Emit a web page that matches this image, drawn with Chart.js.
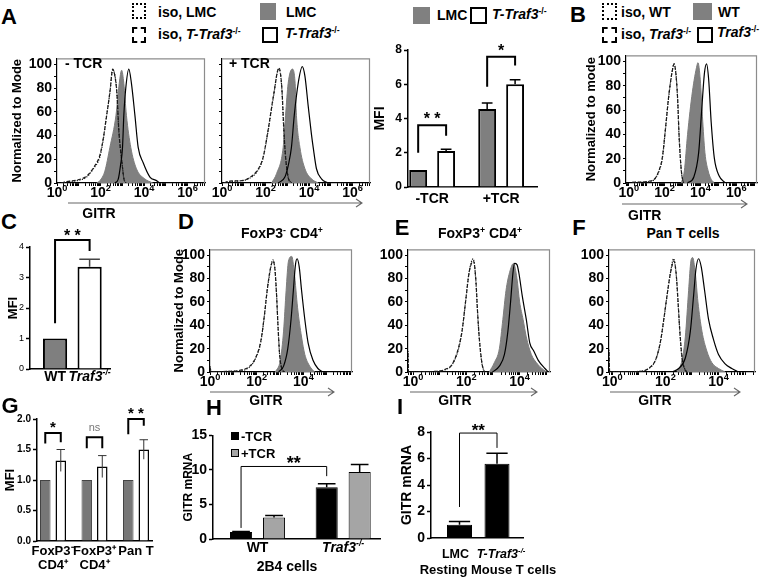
<!DOCTYPE html>
<html><head><meta charset="utf-8">
<script src="https://cdn.jsdelivr.net/npm/chart.js@4.4.1/dist/chart.umd.min.js"></script>
<style>
body{margin:0;background:#fff;width:765px;height:578px;position:relative;overflow:hidden;font-family:'Liberation Sans',Arial,Helvetica,sans-serif;}
.t{position:absolute;white-space:nowrap;font-weight:bold;color:#000;line-height:1;}
.sp{font-size:0.62em;position:relative;top:-0.6em;}
canvas{position:absolute;}
.box{position:absolute;box-sizing:border-box;}
</style></head><body>
<script>
// ================= DATA =================
// Flow histograms: points are [log10(GITR), % of mode]
const A_noTCR_isoLMC = [[0.2,0],[0.44,1],[0.9,2],[1.36,5],[1.67,12],[1.97,22],[2.12,36],[2.28,57],[2.43,76],[2.55,95],[2.63,93],[2.74,79],[2.84,44],[2.97,20],[3.07,4],[3.16,0]];
const A_noTCR_isoKO  = [[0.2,0],[0.42,1],[0.92,2.5],[1.38,6],[1.68,13],[1.98,24],[2.13,38],[2.29,58],[2.44,78],[2.56,96],[2.64,92],[2.75,76],[2.85,42],[2.98,18],[3.08,3],[3.17,0]];
const A_noTCR_LMC    = [[1.82,0],[1.97,2],[2.2,10],[2.43,30],[2.71,57],[2.86,84],[2.97,95],[3.07,84],[3.19,57],[3.39,30],[3.65,12],[4.03,3.5],[4.4,0]];
const A_noTCR_KO     = [[2.66,0],[2.81,3],[2.92,15],[3.01,30],[3.07,57],[3.16,80],[3.3,96],[3.42,84],[3.58,57],[3.73,30],[3.96,17],[4.27,5],[4.57,2],[4.72,0]];

const A_TCR_isoLMC = [[0.1,0],[0.29,1],[0.9,2],[1.21,3.5],[1.59,9],[1.82,17],[1.9,22],[2.12,44],[2.35,71],[2.61,96],[2.74,82],[2.84,44],[2.92,22],[3.04,5],[3.19,0]];
const A_TCR_isoKO  = [[0.1,0],[0.3,1.5],[0.92,2],[1.22,4],[1.6,10],[1.83,18],[1.92,24],[2.13,46],[2.36,73],[2.62,97],[2.75,80],[2.85,42],[2.93,20],[3.05,4],[3.2,0]];
const A_TCR_LMC    = [[2.28,0],[2.51,8],[2.81,30],[2.92,57],[3.04,84],[3.23,96],[3.36,84],[3.42,57],[3.58,30],[3.81,12],[4.11,3.5],[4.42,0]];
const A_TCR_KO     = [[2.58,0],[2.89,5],[3.07,17],[3.19,30],[3.32,57],[3.5,84],[3.69,98],[3.81,90],[3.96,65],[4.11,41],[4.19,30],[4.34,12],[4.57,3.5],[4.88,0]];

const B_isoWT = [[0.19,0.5],[1.08,1],[1.43,3],[1.69,10],[1.87,20],[2.05,45],[2.22,70],[2.4,90],[2.52,98],[2.63,90],[2.72,70],[2.8,40],[2.93,10],[3.05,0]];
const B_isoKO = [[0.2,0.5],[1.1,1.5],[1.45,3.5],[1.7,11],[1.88,22],[2.06,47],[2.23,72],[2.41,91],[2.53,98],[2.64,88],[2.73,68],[2.81,38],[2.94,9],[3.06,0]];
const B_WT    = [[2.93,0],[3.1,10],[3.28,40],[3.55,75],[3.81,97],[3.86,99],[3.99,85],[4.11,55],[4.25,25],[4.43,10],[4.6,3],[4.78,0]];
const B_KO    = [[3.28,0],[3.63,5],[3.9,25],[4.07,60],[4.22,90],[4.34,98],[4.46,85],[4.6,50],[4.78,20],[5.04,6],[5.4,0]];

const D_isoLMC = [[0,5],[0.05,0],[0.7,0.5],[1.26,1],[1.68,4],[1.96,12],[2.17,25],[2.31,45],[2.45,70],[2.59,88],[2.69,96],[2.77,90],[2.84,70],[2.91,40],[2.98,15],[3.08,3],[3.19,0]];
const D_isoKO  = [[0,4],[0.05,0],[0.72,0.5],[1.28,1.5],[1.7,5],[1.97,13],[2.18,27],[2.32,47],[2.46,72],[2.6,90],[2.7,95],[2.78,88],[2.85,66],[2.92,36],[2.99,13],[3.09,2],[3.2,0]];
const D_LMC    = [[2.8,0],[3.01,10],[3.15,35],[3.26,70],[3.36,95],[3.5,99],[3.61,85],[3.75,55],[3.92,30],[4.06,15],[4.27,5],[4.48,0]];
const D_KO     = [[2.94,0],[3.15,5],[3.33,20],[3.47,45],[3.57,70],[3.66,92],[3.73,97],[3.82,90],[3.92,70],[4.06,45],[4.2,25],[4.41,10],[4.62,3],[4.83,0]];

const E_isoLMC = [[-0.19,18],[-0.17,0],[0.83,0.5],[1.21,2],[1.46,6],[1.71,20],[1.84,35],[1.97,60],[2.1,85],[2.26,97],[2.35,80],[2.41,55],[2.48,30],[2.58,8],[2.67,0]];
const E_isoKO  = [[-0.19,16],[-0.17,0],[0.85,0.5],[1.23,2.5],[1.48,7],[1.72,22],[1.85,37],[1.98,62],[2.11,86],[2.27,95],[2.36,78],[2.42,52],[2.49,28],[2.59,7],[2.68,0]];
const E_LMC    = [[2.86,0],[3.05,8],[3.24,20],[3.37,45],[3.49,70],[3.62,85],[3.77,93],[3.9,80],[4.0,60],[4.13,45],[4.25,30],[4.44,15],[4.63,8],[4.89,2],[5.02,0]];
const E_KO     = [[2.98,0],[3.24,5],[3.43,15],[3.56,35],[3.66,60],[3.75,85],[3.81,93],[3.9,92],[3.97,85],[4.1,65],[4.25,45],[4.38,25],[4.53,18],[4.7,10],[4.95,3],[5.08,0]];

const F_isoLMC = [[-0.125,19],[-0.1,0],[1.0,0.5],[1.375,3],[1.625,10],[1.81,25],[1.94,45],[2.06,65],[2.19,85],[2.31,97],[2.4,85],[2.475,60],[2.54,35],[2.625,12],[2.725,3],[2.81,0]];
const F_isoKO  = [[-0.125,17],[-0.1,0],[1.02,0.5],[1.39,3.5],[1.64,11],[1.82,27],[1.95,47],[2.07,67],[2.2,86],[2.32,95],[2.41,83],[2.485,57],[2.55,33],[2.635,11],[2.735,2],[2.82,0]];
const F_LMC    = [[2.44,0],[2.625,10],[2.75,30],[2.875,70],[2.96,95],[3.025,98],[3.125,85],[3.225,60],[3.375,35],[3.56,18],[3.75,8],[4.0,3],[4.25,0]];
const F_KO     = [[2.25,0],[2.5,3],[2.75,12],[2.94,35],[3.06,65],[3.15,88],[3.25,97],[3.35,90],[3.475,70],[3.625,45],[3.81,28],[4.0,15],[4.25,7],[4.5,3],[4.75,0]];

// Histogram axis ticks
const HIST_X_DECADES = [0, 2, 4, 6];
const HIST_Y_TICKS = [0, 20, 40, 60, 80, 100];

// Bar data
const A_groups = ['-TCR', '+TCR'];
const A_LMC = [1.0, 4.55],  A_LMC_err = [0, 0.35];
const A_KO  = [2.1, 6.0],   A_KO_err  = [0.1, 0.27];
// rich labels: [text, style]  style: '' normal, 'i' italic, 's' superscript
const C_groups = [[['WT','']], [['Traf3','i'],['-/-','is']]];
const C_vals = [1.0, 3.35], C_err = [0, 0.25];
const G_groups = [['FoxP3\u207B','CD4\u207A'], ['FoxP3\u207A','CD4\u207A'], 'Pan T'];
const G_ctrl = [1, 1, 1];
const G_KO = [1.32, 1.22, 1.5], G_KO_err = [0.18, 0.18, 0.16];
const H_groups = [[['WT','']], [['Traf3','i'],['-/-','is']]];
const H_noTCR = [1.0, 7.5], H_noTCR_err = [0.1, 0.5];
const H_TCR   = [3.1, 9.7], H_TCR_err   = [0.3, 1.1];
const I_groups = [[['LMC','']], [['T-Traf3','i'],['-/-','is']]];
const I_vals = [1.0, 5.6], I_err = [0.25, 0.8];

// ================= HELPERS =================
const FONT = "'Liberation Sans', Arial, Helvetica, sans-serif";
Chart.defaults.font.family = FONT;

Chart.register({
  id:'frame',
  afterDraw(ch, a, o){
    if(!o || !o.on) return;
    const {left,right,top,bottom} = ch.chartArea, c = ch.ctx;
    c.save(); c.strokeStyle = '#8c8c8c'; c.lineWidth = 1.2;
    c.beginPath(); c.moveTo(left, top+0.5); c.lineTo(right-0.5, top+0.5); c.lineTo(right-0.5, bottom); c.stroke();
    c.restore();
  }
});
Chart.register({
  id:'errbars',
  afterDatasetsDraw(ch){
    const c = ch.ctx, ys = ch.scales.y;
    ch.data.datasets.forEach((d, di) => {
      if(!d.errs) return;
      ch.getDatasetMeta(di).data.forEach((el, i) => {
        const e = d.errs[i]; if(!e) return;
        const v = d.data[i].y;
        const yT = ys.getPixelForValue(v + e);
        const yB = d.errDown ? ys.getPixelForValue(v - e) : ys.getPixelForValue(v);
        const cw = el.width * (d.capFrac || 0.6) / 2;
        c.save(); c.strokeStyle = d.errColor || '#000'; c.lineWidth = d.errW || 1.5;
        c.beginPath(); c.moveTo(el.x, yB); c.lineTo(el.x, yT); c.moveTo(el.x-cw, yT); c.lineTo(el.x+cw, yT); c.stroke();
        c.restore();
      });
    });
  }
});
Chart.register({
  id:'sig',
  afterDraw(ch, a, o){
    if(!o || !o.items) return;
    const c = ch.ctx, ys = ch.scales.y;
    o.items.forEach(b => {
      const ea = ch.getDatasetMeta(b.a[0]).data[b.a[1]], eb = ch.getDatasetMeta(b.b[0]).data[b.b[1]];
      const xa = ea.x, xb = eb.x, yt = ys.getPixelForValue(b.top);
      c.save(); c.strokeStyle = '#000'; c.lineWidth = b.lw || 2; c.lineJoin = 'miter';
      c.beginPath(); c.moveTo(xa, ys.getPixelForValue(b.la)); c.lineTo(xa, yt); c.lineTo(xb, yt); c.lineTo(xb, ys.getPixelForValue(b.lb)); c.stroke();
      c.fillStyle = b.color || '#000'; c.font = b.font || ('bold 16px ' + FONT);
      c.textAlign = 'center'; c.textBaseline = 'alphabetic';
      c.fillText(b.text, (xa+xb)/2 + (b.dx||0), yt - (b.dy||0));
      c.restore();
    });
  }
});
// x-axis labels with italic / superscript parts, placed by the x scale
Chart.register({
  id:'richx',
  afterDraw(ch, a, o){
    if(!o || !o.labels) return;
    const xs = ch.scales.x, c = ch.ctx;
    const supS = o.supScale || 0.62, supR = o.supRise || 0.4;
    o.labels.forEach((segs, i) => {
      if(o.pos[i] < xs.min || o.pos[i] > xs.max) return;
      const x = xs.getPixelForValue(o.pos[i]) + (o.dx ? o.dx[i] : 0), y = xs.top + o.base;
      let w = 0;
      const parts = segs.map(s => {
        const sup = s[1].includes('s'), size = sup ? o.size*supS : o.size;
        const font = (s[1].includes('i') ? 'italic ' : '') + 'bold ' + size + 'px ' + FONT;
        c.font = font; const ww = c.measureText(s[0]).width; w += ww;
        return {t:s[0], font, ww, dy: sup ? -o.size*supR : 0};
      });
      let cx = x - w/2;
      c.save(); c.fillStyle = '#000'; c.textBaseline = 'alphabetic'; c.textAlign = 'left';
      parts.forEach(p => { c.font = p.font; c.fillText(p.t, cx, y + p.dy); cx += p.ww; });
      c.restore();
    });
  }
});

function mkCanvas(area, m){
  const c = document.createElement('canvas');
  const w = Math.round(area[2]-area[0]+m.l+m.r), h = Math.round(area[3]-area[1]+m.t+m.b);
  c.width = w; c.height = h;
  c.style.left = (area[0]-m.l)+'px'; c.style.top = (area[1]-m.t)+'px';
  c.style.width = w+'px'; c.style.height = h+'px';
  document.body.appendChild(c);
  return c;
}
const pts = a => a.map(p => ({x:p[0], y:p[1]}));

function histo(area, m, xr, cur, yLabels, yTitle){
  const cv = mkCanvas(area, m);
  const decs = HIST_X_DECADES.filter(n => n >= xr[0] && n <= xr[1] - 0.3);
  new Chart(cv, {
    type:'line',
    data:{datasets:[
      {data:pts(cur.ko),   borderColor:'#000', borderWidth:1.2, order:1},
      {data:pts(cur.iso1), borderColor:'#1a1a1a', borderWidth:1.2, borderDash:[1.2,1.4], order:1},
      {data:pts(cur.iso2), borderColor:'#1a1a1a', borderWidth:1.2, borderDash:[3.5,2], order:1},
      {data:pts(cur.ctl),  borderColor:'#7d7d7d', borderWidth:1, backgroundColor:'#808080', fill:'origin', order:2}
    ]},
    options:{
      responsive:false, animation:false, devicePixelRatio:1, events:[],
      layout:{padding:{top:m.t, right:m.r, left:0, bottom:0}},
      plugins:{legend:{display:false}, tooltip:{enabled:false}, frame:{on:true},
        richx:{labels:decs.map(n => [['10',''],[String(n),'s']]), pos:decs, base:14, size:14, supScale:0.66, supRise:0.42}},
      elements:{point:{radius:0}, line:{cubicInterpolationMode:'monotone', fill:false}},
      scales:{
        x:{type:'linear', min:xr[0], max:xr[1],
          afterFit:s=>{s.height=m.b;},
          afterBuildTicks:s=>{
            const t=[];
            for(let n=Math.floor(xr[0]); n<=Math.ceil(xr[1]); n++)
              for(let k=1;k<=9;k++){ const v=n+Math.log10(k); if(v>=xr[0]-1e-9 && v<=xr[1]+1e-9) t.push({value:v}); }
            s.ticks=t;
          },
          ticks:{autoSkip:false, maxRotation:0, padding:0, font:{size:1}, callback:()=>''},
          grid:{drawOnChartArea:false, drawTicks:true, tickLength:3, tickColor:'#000'},
          border:{color:'#000', width:1.2}},
        y:{min:0, max:105,
          afterFit:s=>{s.width=m.l;},
          afterBuildTicks:s=>{ const t=[]; for(let v=0; v<=100; v+=10) t.push({value:v, lab:HIST_Y_TICKS.includes(v)}); s.ticks=t; },
          ticks:{autoSkip:false, padding:2, color:'#000', font:{size:14, weight:'bold'},
            callback:(v,i,t)=> (yLabels && t[i].lab) ? String(v) : ''},
          grid:{drawOnChartArea:false, drawTicks:true, tickLength:3, tickColor:'#000'},
          border:{color:'#000', width:1.2},
          title: yTitle ? {display:true, text:yTitle, color:'#000', font:{size:13, weight:'bold'}, padding:0} : {display:false}}
      }
    }
  });
}

function barChart(area, m, cfg){
  const cv = mkCanvas(area, m);
  new Chart(cv, {
    type:'bar',
    data:{datasets: cfg.ds.map(d => ({
      data: d.vals.map((v,i)=>({x:cfg.pos[i], y:v})),
      backgroundColor:d.bg, borderColor:d.border, borderWidth:d.bw,
      errs:d.errs, errDown:d.errDown, errColor:d.errColor, errW:d.errW, capFrac:d.capFrac,
      categoryPercentage:cfg.cat, barPercentage:cfg.bar
    }))},
    options:{
      responsive:false, animation:false, devicePixelRatio:1, events:[],
      layout:{padding:{top:m.t, right:m.r, left:0, bottom:0}},
      plugins:{legend:{display:false}, tooltip:{enabled:false}, sig:{items:cfg.brackets},
        richx: cfg.rich ? {labels:cfg.rich, pos:cfg.pos, base:cfg.richBase, size:cfg.richSize||14, dx:cfg.richDx} : {}},
      scales:{
        x:{type:'linear', offset:false, min:cfg.xr[0], max:cfg.xr[1],
          afterFit:s=>{s.height=m.b;},
          afterBuildTicks:s=>{ s.ticks = cfg.pos.map(v=>({value:v})); },
          ticks:{autoSkip:false, maxRotation:0, padding:cfg.labelPad||0, color:'#000',
            font:{size:cfg.xsize||14, weight:'bold', lineHeight:cfg.xlh||1.2},
            callback:(v,i)=> cfg.labels ? cfg.labels[i] : ''},
          grid:{display:false, drawTicks:false},
          border:{color:'#000', width:cfg.axW||1.5}},
        y:{min:cfg.yr[0], max:cfg.yr[1],
          afterFit:s=>{s.width=m.l;},
          ticks:{stepSize:cfg.ystep, padding:2, color:'#000', font:cfg.yfont, callback:cfg.yfmt || (v=>String(v))},
          grid:{drawOnChartArea:false, drawTicks:true, tickLength:4, tickColor:'#000', tickWidth:cfg.axW||1.5},
          border:{color:'#000', width:cfg.axW||1.5},
          title:{display:true, text:cfg.ytitle, color:'#000', font:{size:cfg.ytsize||14, weight:'bold'}, padding:0}}
      }
    }
  });
}

function T(x, y, html, o){
  o = o || {};
  const d = document.createElement('div'); d.className = 't'; d.innerHTML = html;
  d.style.left = x+'px'; d.style.top = y+'px'; d.style.fontSize = (o.s||14)+'px';
  if(o.w) d.style.fontWeight = o.w;
  if(o.c) d.style.color = o.c;
  d.style.transform = o.center ? 'translate(-50%,-50%)' : 'translateY(-50%)';
  document.body.appendChild(d);
}
function BX(x, y, w, h, css){
  const d = document.createElement('div'); d.className = 'box';
  d.style.cssText += `left:${x}px;top:${y}px;width:${w}px;height:${h}px;${css}`;
  document.body.appendChild(d);
}
const KO = '<i>T-Traf3</i><span class="sp">-/-</span>';
const KO2 = '<i>Traf3</i><span class="sp">-/-</span>';

// ================= PANEL A =================
T(9, 17, 'A', {s:22, center:true});
BX(132, 3, 14, 16, 'border:2px dotted #000;');
T(158, 12, 'iso, LMC');
BX(132, 27, 14, 16, 'border:2px dashed #000;');
T(158, 34, 'iso, ' + KO);
BX(260, 3, 16, 17, 'background:#808080;');
T(286, 12, 'LMC');
BX(262, 27, 16, 16, 'border:2px solid #000;');
T(285, 33, KO);

histo([57,52,205,183], {l:47, r:4, t:4, b:20}, [0,6.8],
  {iso1:A_noTCR_isoLMC, iso2:A_noTCR_isoKO, ctl:A_noTCR_LMC, ko:A_noTCR_KO}, true, 'Normalized to Mode');
histo([222,52,370,183], {l:14, r:4, t:4, b:20}, [0,6.8],
  {iso1:A_TCR_isoLMC, iso2:A_TCR_isoKO, ctl:A_TCR_LMC, ko:A_TCR_KO}, false, null);
T(65, 63, '- TCR', {s:14});
T(229, 63, '+ TCR', {s:14});

BX(413, 7, 17, 17, 'background:#808080;');
T(437, 15, 'LMC');
BX(470, 7, 17, 17, 'border:2px solid #000;');
T(492, 14, KO);

barChart([408,50,537,187], {l:36, r:6, t:14, b:26}, {
  xr:[0.3, 4.04], pos:[1,3], labels:A_groups, labelPad:4, cat:0.81, bar:0.64,
  yr:[0,8], ystep:2, yfont:{size:12, weight:'bold'}, ytitle:'MFI', ytsize:14,
  ds:[
    {vals:A_LMC, errs:A_LMC_err, bg:'#7f7f7f', border:'#000', bw:2},
    {vals:A_KO,  errs:A_KO_err,  bg:'#fff',    border:'#000', bw:2}
  ],
  brackets:[
    {a:[0,0], b:[1,0], top:3.6, la:2.0, lb:3.0, text:'* *', dy:1},
    {a:[0,1], b:[1,1], top:7.6, la:5.85, lb:7.1, text:'*', dy:1}
  ]
});

// ================= PANEL B =================
T(578, 15, 'B', {s:22, center:true});
BX(602, 3, 15, 17, 'border:2px dotted #000;');
T(621, 12, 'iso, WT');
BX(602, 27, 15, 16, 'border:2px dashed #000;');
T(621, 34, 'iso, ' + KO2);
BX(693, 3, 19, 17, 'background:#808080;');
T(718, 12, 'WT');
BX(697, 27, 16, 16, 'border:2px solid #000;');
T(717, 32, KO2);
histo([626,49,757,183], {l:42, r:6, t:4, b:20}, [-0.16,7.16],
  {iso1:B_isoWT, iso2:B_isoKO, ctl:B_WT, ko:B_KO}, true, 'Normalized to mode');

// ================= PANEL C =================
T(9, 222, 'C', {s:22, center:true});
barChart([30,247,110,369], {l:24, r:15, t:22, b:16}, {
  xr:[0.275, 2.59], pos:[1,2], rich:C_groups, richBase:12, richSize:14, cat:1, bar:0.7,
  yr:[0,4], ystep:1, yfont:{size:9, weight:'normal'}, ytitle:'MFI', ytsize:13, axW:1.5,
  ds:[{vals:C_vals, errs:C_err, bg:['#7f7f7f','#fff'], border:'#000', bw:2, errColor:'#444', capFrac:0.85}],
  brackets:[{a:[0,0], b:[0,1], top:4.23, la:1.5, lb:3.87, text:'* *', dy:-1}]
});

// ================= PANELS D, E, F =================
T(186, 222, 'D', {s:22, center:true});
T(282, 233, 'FoxP3<span class="sp">-</span> CD4<span class="sp">+</span>', {center:true});
histo([210,243,352,372], {l:38, r:4, t:4, b:20}, [0,6.08],
  {iso1:D_isoLMC, iso2:D_isoKO, ctl:D_LMC, ko:D_KO}, true, 'Normalized to Mode');

T(402, 228, 'E', {s:22, center:true});
T(480, 233, 'FoxP3<span class="sp">+</span> CD4<span class="sp">+</span>', {center:true});
histo([408,243,550,372], {l:30, r:4, t:4, b:20}, [-0.19,5.14],
  {iso1:E_isoLMC, iso2:E_isoKO, ctl:E_LMC, ko:E_KO}, true, null);

T(579, 228, 'F', {s:22, center:true});
T(683, 233, 'Pan T cells', {center:true});
histo([609,243,755,372], {l:30, r:6, t:4, b:20}, [-0.125,5.375],
  {iso1:F_isoLMC, iso2:F_isoKO, ctl:F_LMC, ko:F_KO}, true, null);

// GITR axis arrows
(function(){
  const ns = 'http://www.w3.org/2000/svg';
  const svg = document.createElementNS(ns, 'svg');
  svg.setAttribute('width', 765); svg.setAttribute('height', 578);
  svg.style.cssText = 'position:absolute;left:0;top:0;pointer-events:none;';
  [[68,362,203],[622,747,204],[210,334,392],[410,537,392],[610,740,392]].forEach(a => {
    const p = document.createElementNS(ns, 'path');
    p.setAttribute('d', `M${a[0]} ${a[2]} H${a[1]} M${a[1]-6} ${a[2]-4} L${a[1]} ${a[2]} L${a[1]-6} ${a[2]+4}`);
    p.setAttribute('stroke', '#666'); p.setAttribute('stroke-width', '1.1'); p.setAttribute('fill', 'none');
    svg.appendChild(p);
  });
  document.body.appendChild(svg);
})();
T(99, 213, 'GITR', {center:true});
T(628, 215, 'GITR');
T(266, 400, 'GITR', {center:true});
T(455, 400, 'GITR', {center:true});
T(655, 400, 'GITR', {center:true});

// ================= PANEL G =================
T(10, 406, 'G', {s:22, center:true});
barChart([37,419,152,541], {l:34, r:10, t:18, b:37}, {
  xr:[0.614, 3.385], pos:[1,2,3], labels:G_groups, labelPad:4, xsize:13, xlh:1.05, cat:0.747, bar:0.68,
  yr:[0,2], ystep:0.5, yfont:{size:10, weight:'bold'}, yfmt:v=>v.toFixed(1), ytitle:'MFI', ytsize:13,
  ds:[
    {vals:G_ctrl, bg:'#777', border:'#444', bw:1},
    {vals:G_KO, errs:G_KO_err, errDown:true, bg:'#fff', border:'#000', bw:1.5, errColor:'#333', errW:1, capFrac:0.8}
  ],
  brackets:[
    {a:[0,0], b:[1,0], top:1.77, la:1.6, lb:1.62, text:'*', font:'bold 15px '+FONT, dy:1},
    {a:[0,1], b:[1,1], top:1.7, la:1.52, lb:1.52, text:'ns', font:'11px '+FONT, color:'#777', dy:6},
    {a:[0,2], b:[1,2], top:2.0, la:1.75, lb:1.89, text:'* *', font:'bold 15px '+FONT, dy:1}
  ]
});

// ================= PANEL H =================
T(214, 408, 'H', {s:22, center:true});
barChart([213,435,380,539], {l:32, r:8, t:10, b:35}, {
  xr:[0.48, 2.43], pos:[1,2], rich:H_groups, richBase:13, richSize:14, cat:0.77, bar:0.67,
  yr:[0,15], ystep:5, yfont:{size:14, weight:'bold'}, ytitle:'GITR mRNA', ytsize:12, axW:1.5,
  ds:[
    {vals:H_noTCR, errs:H_noTCR_err, bg:'#000', border:'#000', bw:1, capFrac:0.8},
    {vals:H_TCR, errs:H_TCR_err, bg:'#a5a5a5', border:'#000', bw:1, capFrac:0.8}
  ],
  brackets:[{a:[0,0], b:[0,1], top:10.5, la:1.6, lb:9.1, text:'**', lw:1, font:'bold 18px '+FONT, dx:10, dy:-3}]
});
BX(231, 432, 8, 8, 'background:#000;');
T(241, 436, '-TCR', {s:13});
BX(231, 449, 8, 8, 'background:#a5a5a5;border:1px solid #000;');
T(241, 453, '+TCR', {s:13});
T(287, 566, '2B4 cells', {center:true});

// ================= PANEL I =================
T(400, 407, 'I', {s:22, center:true});
barChart([431,432,523,538], {l:32, r:20, t:12, b:39}, {
  xr:[0.24, 2.693], pos:[1,2], rich:I_groups, richBase:20, richSize:12.5, richDx:[-4,4], cat:1, bar:0.667,
  yr:[0,8], ystep:2, yfont:{size:14, weight:'bold'}, ytitle:'GITR mRNA', ytsize:14, axW:1.5,
  ds:[{vals:I_vals, errs:I_err, bg:'#000', border:'#000', bw:1, capFrac:0.85}],
  brackets:[{a:[0,0], b:[0,1], top:7.92, la:2.34, lb:6.8, text:'**', lw:1, font:'bold 17px '+FONT, dy:-3}]
});
T(488, 569, 'Resting Mouse T cells', {center:true, s:13});
</script>
</body></html>
